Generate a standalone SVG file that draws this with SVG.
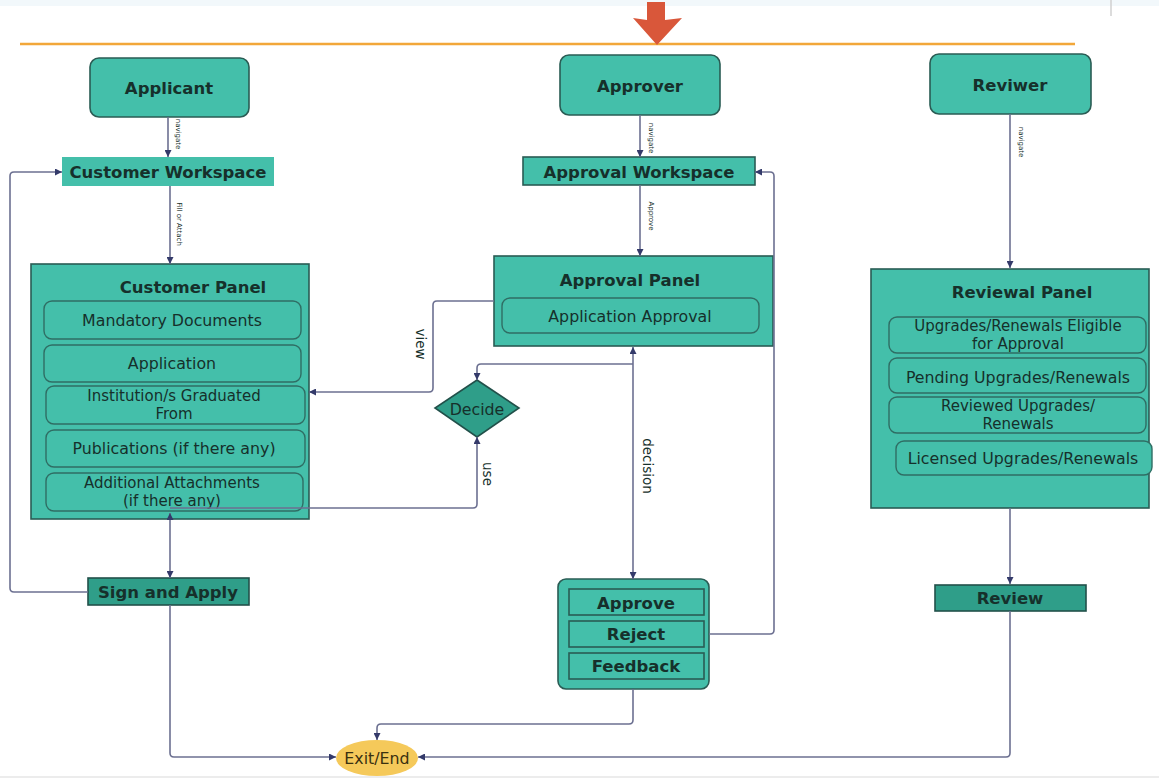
<svg xmlns="http://www.w3.org/2000/svg" width="1159" height="782" viewBox="0 0 1159 782">
<style>
text{font-family:"DejaVu Sans","Liberation Sans",sans-serif;fill:#16302b;text-anchor:middle;dominant-baseline:central}
.t{font-size:16.5px;font-weight:bold}
.i{font-size:15.8px}
.i2{font-size:15px}
.s{font-size:7px}
.l{font-size:13.5px}
.node{fill:#44bfaa;stroke:#2a5c54;stroke-width:1.6}
.dark{fill:#2f9e89;stroke:#22504a;stroke-width:1.6}
.ws{fill:#44bfaa;stroke:none}
.item{fill:#44bfaa;stroke:#2f6e64;stroke-width:1.4}
.c{fill:none;stroke:#6c7091;stroke-width:1.6;stroke-linejoin:round}
</style>
<defs>
<marker id="arr" viewBox="0 0 8 8" refX="8" refY="4" markerWidth="7" markerHeight="7" markerUnits="userSpaceOnUse" orient="auto-start-reverse">
<path d="M0,0 L8,4 L0,8 z" fill="#343a6a"/>
</marker>
</defs>
<rect x="0" y="0" width="1159" height="782" fill="#ffffff"/>
<rect x="0" y="0" width="1159" height="6" fill="#f2f8fb"/>
<line x1="1111" y1="0" x2="1111" y2="16" stroke="#d0d0d0" stroke-width="1.5"/>
<line x1="0" y1="777" x2="1159" y2="777" stroke="#ececec" stroke-width="2"/>
<line x1="20" y1="44" x2="1075" y2="44" stroke="#f2a73a" stroke-width="2.5"/>
<path id="downArrow" d="M647,2 H665 V20 L682,18 L657,45 L633,18 L647,20 Z" fill="#d9573a"/>

<g id="applicant">
<rect class="node" x="90" y="58" width="159" height="59" rx="9"/>
<text class="t" x="169" y="88">Applicant</text>
</g>
<g id="customer-workspace">
<rect class="ws" x="62" y="157" width="212" height="29"/>
<text class="t" x="168" y="172">Customer Workspace</text>
</g>
<g id="customer-panel">
<rect class="node" x="31" y="264" width="278" height="255"/>
<text class="t" x="193" y="287">Customer Panel</text>
<rect class="item" x="44" y="301" width="257" height="38" rx="8"/>
<text class="i" x="172" y="320">Mandatory Documents</text>
<rect class="item" x="44" y="345" width="257" height="37" rx="8"/>
<text class="i" x="172" y="363">Application</text>
<rect class="item" x="46" y="386" width="259" height="38" rx="8"/>
<text class="i2" x="174" y="396">Institution/s Graduated</text>
<text class="i2" x="174" y="414">From</text>
<rect class="item" x="46" y="430" width="259" height="37" rx="8"/>
<text class="i" x="174" y="448">Publications (if there any)</text>
<rect class="item" x="46" y="473" width="257" height="38" rx="8"/>
<text class="i2" x="172" y="483">Additional Attachments</text>
<text class="i2" x="172" y="501">(if there any)</text>
</g>
<g id="sign-and-apply">
<rect class="dark" x="88" y="578" width="161" height="27"/>
<text class="t" x="168" y="592">Sign and Apply</text>
</g>

<g id="approver">
<rect class="node" x="560" y="55" width="160" height="60" rx="9"/>
<text class="t" x="640" y="86">Approver</text>
</g>
<g id="approval-workspace">
<rect class="node" x="523" y="157" width="232" height="28"/>
<text class="t" x="639" y="172">Approval Workspace</text>
</g>
<g id="approval-panel">
<rect class="node" x="494" y="256" width="279" height="90"/>
<text class="t" x="630" y="280">Approval Panel</text>
<rect class="item" x="502" y="298" width="257" height="35" rx="8"/>
<text class="i" x="630" y="316">Application Approval</text>
</g>
<g id="decide">
<polygon class="dark" points="477,380 519,408 477,437 435,408"/>
<text class="i" x="477" y="409">Decide</text>
</g>
<g id="decision-options">
<rect class="node" x="558" y="579" width="151" height="110" rx="8"/>
<rect class="node" x="569" y="589" width="135" height="26"/>
<text class="t" x="636" y="603">Approve</text>
<rect class="node" x="569" y="621" width="135" height="26"/>
<text class="t" x="636" y="634">Reject</text>
<rect class="node" x="569" y="653" width="135" height="26"/>
<text class="t" x="636" y="666">Feedback</text>
</g>

<g id="reviwer">
<rect class="node" x="930" y="54" width="161" height="60" rx="9"/>
<text class="t" x="1010" y="85">Reviwer</text>
</g>
<g id="reviewal-panel">
<rect class="node" x="871" y="269" width="278" height="239"/>
<text class="t" x="1022" y="292">Reviewal Panel</text>
<rect class="item" x="889" y="317" width="257" height="36" rx="8"/>
<text class="i2" x="1018" y="326">Upgrades/Renewals Eligible</text>
<text class="i2" x="1018" y="344">for Approval</text>
<rect class="item" x="889" y="358" width="257" height="35" rx="8"/>
<text class="i" x="1018" y="377">Pending Upgrades/Renewals</text>
<rect class="item" x="889" y="397" width="257" height="36" rx="8"/>
<text class="i2" x="1018" y="406">Reviewed Upgrades/</text>
<text class="i2" x="1018" y="424">Renewals</text>
<rect class="item" x="896" y="441" width="256" height="34" rx="8"/>
<text class="i" x="1023" y="458">Licensed Upgrades/Renewals</text>
</g>
<g id="review">
<rect class="dark" x="935" y="585" width="151" height="26"/>
<text class="t" x="1010" y="598">Review</text>
</g>

<g id="exit-end">
<ellipse cx="377" cy="758" rx="41" ry="18" fill="#f5c95a"/>
<text class="i" x="377" y="758" style="fill:#3a3010">Exit/End</text>
</g>

<g id="connectors">
<path class="c" d="M168,117 V157" marker-end="url(#arr)"/>
<path class="c" d="M170,186 V264" marker-end="url(#arr)"/>
<path class="c" d="M170,513 V578" marker-start="url(#arr)" marker-end="url(#arr)"/>
<path class="c" d="M88,592 H14 Q10,592 10,588 V176 Q10,172 14,172 H62" marker-end="url(#arr)"/>
<path class="c" d="M170,605 V753 Q170,757 174,757 H336" marker-end="url(#arr)"/>
<path class="c" d="M640,115 V157" marker-end="url(#arr)"/>
<path class="c" d="M640,185 V256" marker-end="url(#arr)"/>
<path class="c" d="M709,634 H770 Q774,634 774,630 V176 Q774,172 770,172 H755" marker-end="url(#arr)"/>
<path class="c" d="M494,301 H437 Q433,301 433,305 V388 Q433,392 429,392 H309" marker-end="url(#arr)"/>
<path class="c" d="M633,579 V347" marker-start="url(#arr)" marker-end="url(#arr)"/>
<path class="c" d="M633,364 H481 Q477,364 477,368 V380" marker-end="url(#arr)"/>
<path class="c" d="M170,508 H473 Q477,508 477,504 V437" marker-end="url(#arr)"/>
<path class="c" d="M633,689 V720 Q633,724 629,724 H381 Q377,724 377,728 V740" marker-end="url(#arr)"/>
<path class="c" d="M1010,114 V268" marker-end="url(#arr)"/>
<path class="c" d="M1010,508 V584" marker-end="url(#arr)"/>
<path class="c" d="M1010,611 V753 Q1010,757 1006,757 H418" marker-end="url(#arr)"/>
<text class="s" transform="translate(178,134) rotate(90)">navigate</text>
<text class="s" transform="translate(179,224) rotate(90)">Fill or Attach</text>
<text class="s" transform="translate(651,138) rotate(90)">navigate</text>
<text class="s" transform="translate(651,216) rotate(90)">Approve</text>
<text class="s" transform="translate(1021,142) rotate(90)">navigate</text>
<text class="l" transform="translate(421,344) rotate(90)">view</text>
<text class="l" transform="translate(648,466) rotate(90)">decision</text>
<text class="l" transform="translate(488,474) rotate(90)">use</text>
</g>
</svg>
